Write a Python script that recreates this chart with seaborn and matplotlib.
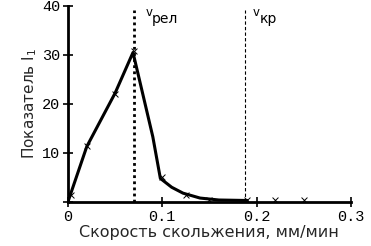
import matplotlib
matplotlib.use('Agg')
import matplotlib.pyplot as plt
import seaborn as sns
import pandas as pd

# Measured points (markers)
speed_pts = [0.003, 0.02, 0.05, 0.07, 0.1, 0.125, 0.15, 0.19, 0.22, 0.25]
index_pts = [1.5, 11.5, 22.0, 30.8, 5.0, 1.5, 0.5, 0.3, 0.3, 0.3]

# Smoothed curve
speed_curve = [0.0, 0.02, 0.05, 0.069, 0.08, 0.09, 0.098, 0.11, 0.122, 0.14, 0.16, 0.19]
index_curve = [0.0, 11.3, 22.2, 30.5, 21.5, 13.3, 4.8, 3.0, 1.8, 0.8, 0.4, 0.3]

v_rel = 0.07
v_kr = 0.188

xticks = [0, 0.1, 0.2, 0.3]
xticklabels = ['0', '0.1', '0.2', '0.3']
yticks = [0, 10, 20, 30, 40]
yticklabels = ['', '10', '20', '30', '40']

sns.set_style('ticks')
plt.rcParams['font.family'] = ['DejaVu Sans']

fig = plt.figure(figsize=(3.71, 2.46), dpi=100)
ax = fig.add_axes([0.183, 0.179, 0.763, 0.797])

curve = pd.DataFrame({'x': speed_curve, 'y': index_curve})
pts = pd.DataFrame({'x': speed_pts, 'y': index_pts})
sns.lineplot(data=curve, x='x', y='y', ax=ax, color='black', linewidth=2.2, sort=False)
sns.scatterplot(data=pts, x='x', y='y', ax=ax, color='black', marker='x', s=18, linewidth=0.7)

ax.axvline(v_rel, color='black', linestyle=(0, (1, 1.2)), linewidth=2, ymax=0.98)
ax.axvline(v_kr, color='black', linestyle=(0, (3, 2)), linewidth=0.8, ymax=0.98)
# labels: small raised "v" followed by the subscript word
ax.text(v_rel + 0.012, 38.0, 'v', fontsize=8.5, color='black')
ax.text(v_rel + 0.019, 36.6, 'рел', fontsize=10, color='black')
ax.text(v_kr + 0.008, 38.0, 'v', fontsize=8.5, color='black')
ax.text(v_kr + 0.015, 36.6, 'кр', fontsize=10, color='black')

ax.set_xlim(0, 0.3)
ax.set_ylim(0, 40)
ax.set_xticks(xticks)
ax.set_xticklabels(xticklabels, family='Liberation Mono')
ax.set_yticks(yticks)
ax.set_yticklabels(yticklabels, family='Liberation Mono')
ax.tick_params(direction='inout', length=7, width=1.2, labelsize=11, pad=2, colors='black')
for side in ['left', 'bottom']:
    ax.spines[side].set_linewidth(2)
    ax.spines[side].set_color('black')
sns.despine(ax=ax)
ax.set_xlabel('Скорость скольжения, мм/мин', fontsize=11.5, labelpad=1)
ax.set_ylabel('Показатель I$_1$', fontsize=11, labelpad=2)

fig.savefig('out.png', dpi=100)
